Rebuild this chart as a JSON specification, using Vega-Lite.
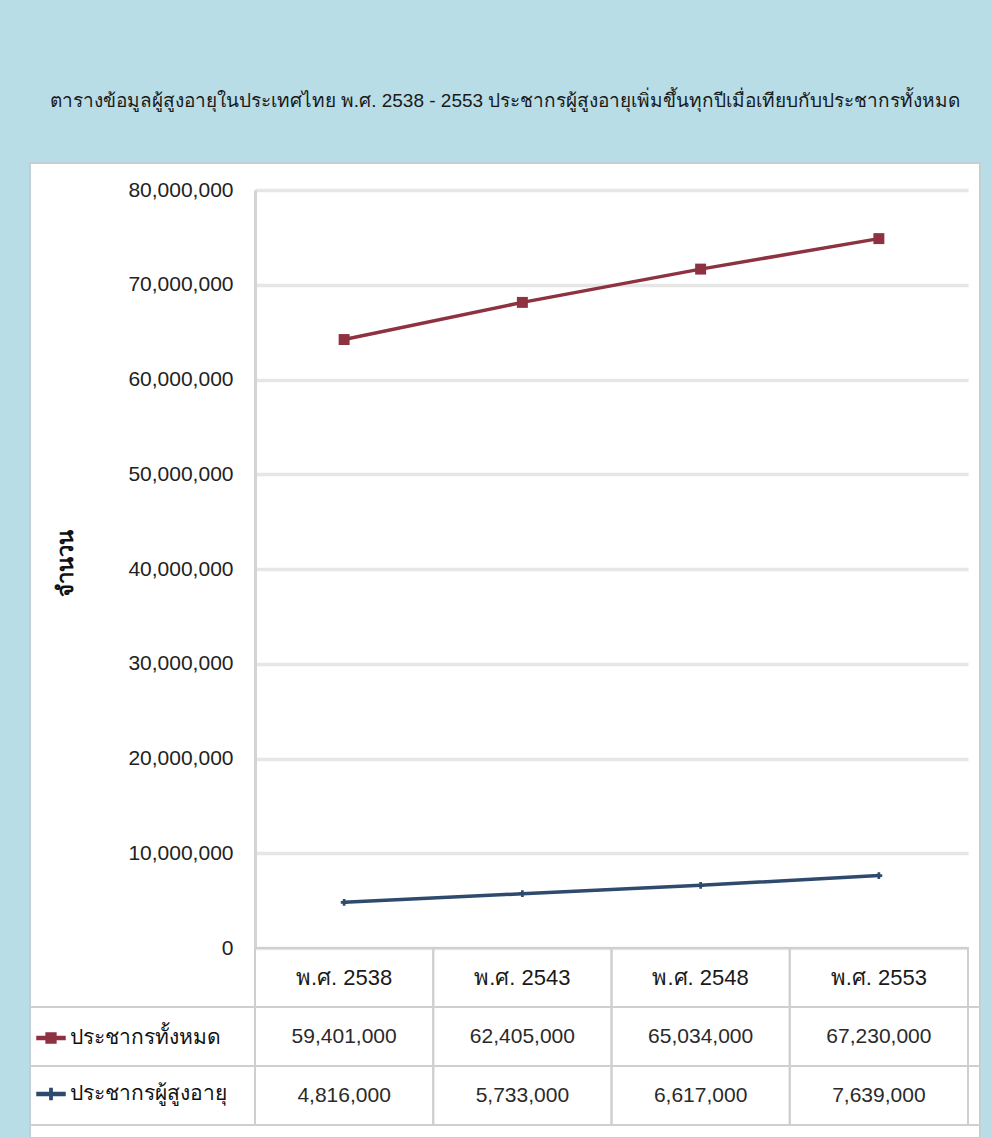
{
  "$schema": "https://vega.github.io/schema/vega-lite/v6.json",
  "width": 950,
  "height": 975,
  "autosize": {"type": "none"},
  "padding": {"left": 30, "top": 163, "right": 12, "bottom": 0},
  "background": "#b8dde7",
  "title": {
    "text": "ตารางข้อมูลผู้สูงอายุในประเทศไทย พ.ศ. 2538 - 2553 ประชากรผู้สูงอายุเพิ่มขึ้นทุกปีเมื่อเทียบกับประชากรทั้งหมด",
    "font": "Liberation Sans",
    "fontSize": 19,
    "fontWeight": "normal",
    "color": "#1a1a1a",
    "anchor": "middle",
    "offset": 52
  },
  "config": {
    "view": {"fill": "white", "stroke": "#c4cfd3", "strokeWidth": 2},
    "font": "Liberation Sans"
  },
  "data": {
    "values": [
      {"year": "พ.ศ. 2538", "ประชากรทั้งหมด": 59401000, "ประชากรผู้สูงอายุ": 4816000},
      {"year": "พ.ศ. 2543", "ประชากรทั้งหมด": 62405000, "ประชากรผู้สูงอายุ": 5733000},
      {"year": "พ.ศ. 2548", "ประชากรทั้งหมด": 65034000, "ประชากรผู้สูงอายุ": 6617000},
      {"year": "พ.ศ. 2553", "ประชากรทั้งหมด": 67230000, "ประชากรผู้สูงอายุ": 7639000}
    ]
  },
  "layer": [
    {
      "transform": [{"fold": ["ประชากรทั้งหมด", "ประชากรผู้สูงอายุ"], "as": ["series", "value"]}],
      "encoding": {
        "x": {"field": "year", "type": "ordinal", "sort": null, "axis": null,
              "scale": {"type": "band", "range": [225, 938], "paddingInner": 0, "paddingOuter": 0}},
        "y": {"field": "value", "type": "quantitative", "stack": "zero",
              "scale": {"domain": [0, 80000000], "range": [785, 27], "nice": false, "zero": false},
              "axis": {
                "values": [0, 10000000, 20000000, 30000000, 40000000, 50000000, 60000000, 70000000, 80000000],
                "format": ",d", "offset": -225, "ticks": false, "labelPadding": 22,
                "labelFont": "Liberation Sans", "labelFontSize": 21, "labelColor": "#222222",
                "labelFlush": false, "labelOverlap": false,
                "domainColor": "#d4d4d4", "domainWidth": 3,
                "grid": true, "gridColor": "#e6e6e6", "gridWidth": 3.5,
                "title": "จำนวน", "titleFontSize": 22, "titleFontWeight": "bold", "titleColor": "#111111",
                "titleX": -190, "titleY": 400, "titleAlign": "center", "titleBaseline": "middle"
              }},
        "color": {"field": "series", "type": "nominal",
                  "scale": {"domain": ["ประชากรทั้งหมด", "ประชากรผู้สูงอายุ"], "range": ["#8e3141", "#2e4a6d"]},
                  "legend": {
                    "orient": "none", "legendX": 6, "legendY": 860, "direction": "vertical",
                    "title": null, "labelFontSize": 21, "labelColor": "#111111", "labelLimit": 300,
                    "symbolSize": 784, "rowPadding": 31, "labelOffset": 4,
                    "encode": {"symbols": {"update": {
                      "shape": {"signal": "datum.value === 'ประชากรทั้งหมด' ? 'M-1,-0.1H1V0.1H-1Z M-0.35,-0.35H0.35V0.35H-0.35Z' : 'M-1,-0.1H1V0.1H-1Z M-0.08,-0.4H0.08V0.4H-0.08Z'"},
                      "fill": {"scale": "color", "field": "value"},
                      "fillOpacity": {"value": 1}
                    }}}
                  }}
      },
      "layer": [
        {"mark": {"type": "line", "strokeWidth": 3.5}},
        {"mark": {"type": "point", "filled": true, "opacity": 1,
                  "shape": {"expr": "datum.series === 'ประชากรทั้งหมด' ? 'square' : 'cross'"},
                  "size": {"expr": "datum.series === 'ประชากรทั้งหมด' ? 120 : 45"}}}
      ]
    },
    {
      "layer": [
        {
          "transform": [{"fold": ["ประชากรทั้งหมด", "ประชากรผู้สูงอายุ"], "as": ["series", "value"]}],
          "mark": {"type": "rect", "fill": "white", "fillOpacity": 0, "stroke": "#cfcfcf", "strokeWidth": 2},
          "encoding": {
            "x": {"field": "year", "type": "ordinal", "sort": null, "axis": null},
            "y": {"field": "series", "type": "nominal", "axis": null,
                  "scale": {"type": "band", "domain": ["head", "ประชากรทั้งหมด", "ประชากรผู้สูงอายุ"], "range": [785, 962], "paddingInner": 0, "paddingOuter": 0}}
          }
        },
        {
          "mark": {"type": "rect", "fill": "white", "fillOpacity": 0, "stroke": "#cfcfcf", "strokeWidth": 2},
          "encoding": {
            "x": {"field": "year", "type": "ordinal", "sort": null, "axis": null},
            "y": {"datum": "head", "type": "nominal", "axis": null}
          }
        },
        {
          "transform": [{"fold": ["ประชากรทั้งหมด", "ประชากรผู้สูงอายุ"], "as": ["series", "value"]}],
          "mark": {"type": "rule", "stroke": "#cfcfcf", "strokeWidth": 2},
          "encoding": {
            "y": {"field": "series", "type": "nominal", "bandPosition": 0, "axis": null}
          }
        },
        {
          "mark": {"type": "rule", "stroke": "#cfcfcf", "strokeWidth": 2},
          "encoding": {
            "y": {"datum": "ประชากรผู้สูงอายุ", "type": "nominal", "bandPosition": 1, "axis": null}
          }
        },
        {
          "mark": {"type": "text", "font": "Liberation Sans", "fontSize": 22, "color": "#1a1a1a", "align": "center", "baseline": "middle"},
          "encoding": {
            "x": {"field": "year", "type": "ordinal", "sort": null, "axis": null},
            "y": {"datum": "head", "type": "nominal", "axis": null},
            "text": {"field": "year", "type": "nominal"}
          }
        },
        {
          "transform": [{"fold": ["ประชากรทั้งหมด", "ประชากรผู้สูงอายุ"], "as": ["series", "value"]}],
          "mark": {"type": "text", "font": "Liberation Sans", "fontSize": 21, "color": "#2a2a2a", "align": "center", "baseline": "middle"},
          "encoding": {
            "x": {"field": "year", "type": "ordinal", "sort": null, "axis": null},
            "y": {"field": "series", "type": "nominal", "axis": null},
            "text": {"field": "value", "type": "quantitative", "format": ",d"}
          }
        }
      ]
    }
  ],
  "resolve": {"scale": {"y": "independent"}}
}
